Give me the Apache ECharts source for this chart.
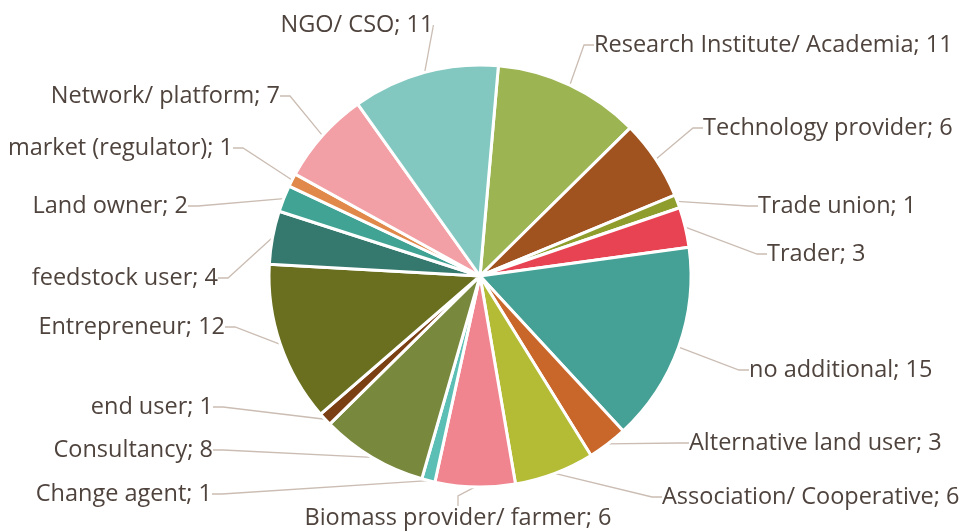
<!DOCTYPE html>
<html>
<head>
<meta charset="utf-8">
<script src="https://cdn.jsdelivr.net/npm/echarts@6/dist/echarts.min.js"></script>
<style>
  html, body { margin: 0; background: #fff; }
  #chart { width: 960px; height: 531px; }
</style>
</head>
<body>
<div id="chart"></div>
<script>
// slices in drawing order, clockwise from the top
var categories = ['Research Institute/ Academia', 'Technology provider', 'Trade union', 'Trader',
  'no additional', 'Alternative land user', 'Association/ Cooperative', 'Biomass provider/ farmer',
  'Change agent', 'Consultancy', 'end user', 'Entrepreneur', 'feedstock user', 'Land owner',
  'market (regulator)', 'Network/ platform', 'NGO/ CSO'];
var counts = [11, 6, 1, 3, 15, 3, 6, 6, 1, 8, 1, 12, 4, 2, 1, 7, 11];

var colors = ['#9db453', '#a0521f', '#8e9d2b', '#e84352', '#45a095', '#c9662a', '#b4bb35', '#f08590',
  '#5bbfb5', '#78883d', '#7b3f14', '#6a6f20', '#35796e', '#40a394', '#e0894a', '#f29fa5', '#82c8c0'];

// where the labels were dragged to in the original: [x, y, align]
var labelSpots = [
  [594, 43, 'left'], [703, 126, 'left'], [758, 204, 'left'], [767, 252, 'left'],
  [749, 368, 'left'], [689, 441, 'left'], [662, 495, 'left'], [458, 516, 'center'],
  [212, 492, 'right'], [213, 448, 'right'], [213, 405, 'right'], [225, 325, 'right'],
  [218, 276, 'right'], [188, 204, 'right'], [233, 146, 'right'], [280, 94, 'right'],
  [357, 23, 'center']
];

var chart = echarts.init(document.getElementById('chart'));

chart.setOption({
  animation: false,
  color: colors,
  series: [{
    type: 'pie',
    center: ['50%', 276],
    radius: 211,
    startAngle: 85,
    clockwise: true,
    avoidLabelOverlap: false,
    data: categories.map(function (name, i) {
      return { name: name, value: counts[i] };
    }),
    itemStyle: { borderColor: '#fff', borderWidth: 3 },
    label: {
      show: true,
      formatter: '{b}; {c}',
      fontFamily: 'Open Sans',
      fontSize: 23.5,
      color: '#4f433d'
    },
    labelLine: {
      show: true,
      length: 10,
      length2: 10,
      lineStyle: { color: '#cbbdb3', width: 1.3 }
    },
    labelLayout: function (p) {
      var s = labelSpots[p.dataIndex];
      // spots were read at cap middle, text box middle sits a little lower
      return { x: s[0], y: s[1] + 2, align: s[2], verticalAlign: 'middle' };
    },
    emphasis: { disabled: true }
  }]
});
</script>
</body>
</html>
